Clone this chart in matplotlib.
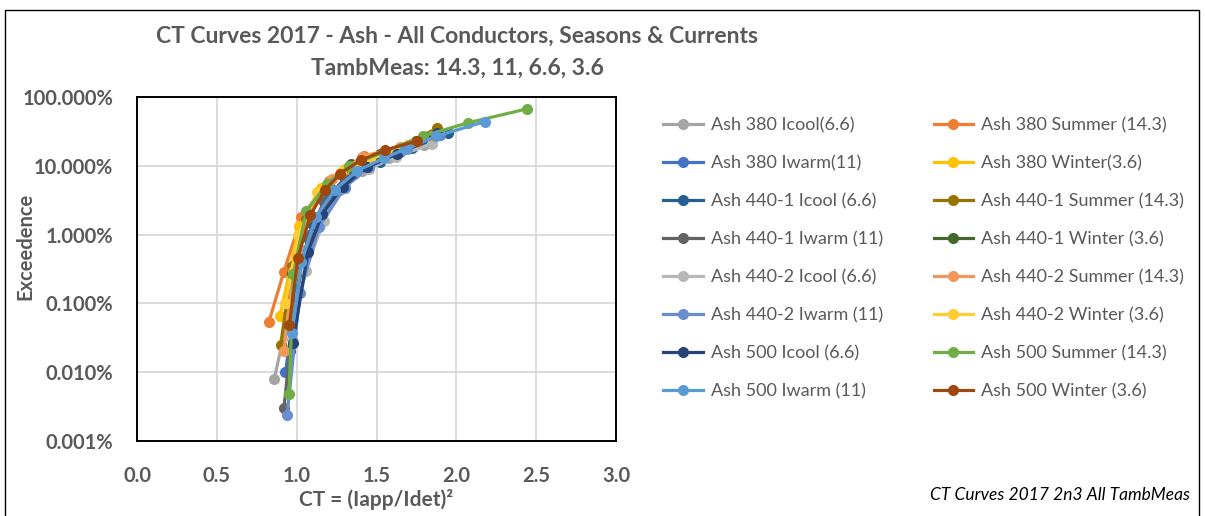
import matplotlib
matplotlib.use("Agg")
import matplotlib.pyplot as plt
from matplotlib.patches import Rectangle

plt.rcParams['font.family'] = ['Lato', 'DejaVu Sans']

# ---- data (CT value, exceedance in %) ----
names = ["Ash 380 Icool(6.6)", "Ash 380 Summer (14.3)", "Ash 380 Iwarm(11)", "Ash 380 Winter(3.6)",
         "Ash 440-1 Icool (6.6)", "Ash 440-1 Summer (14.3)", "Ash 440-1 Iwarm (11)", "Ash 440-1 Winter (3.6)",
         "Ash 440-2 Icool (6.6)", "Ash 440-2 Summer (14.3)", "Ash 440-2 Iwarm (11)", "Ash 440-2 Winter (3.6)",
         "Ash 500 Icool (6.6)", "Ash 500 Summer (14.3)", "Ash 500 Iwarm (11)", "Ash 500 Winter (3.6)"]
colors = ["#A5A5A5", "#ED7D31", "#4472C4", "#FFC000",
          "#255E91", "#997300", "#636363", "#43682B",
          "#B7B7B7", "#F1975A", "#698ED0", "#FFCD33",
          "#264478", "#70AD47", "#5B9BD5", "#9E480E"]

ash380_icool_x = [0.86, 0.97, 1.05, 1.15, 1.27, 1.41, 1.58, 1.80]
ash380_icool_y = [0.008, 0.12, 0.6, 1.7, 4.5, 8.5, 13, 20]
ash380_summer_x = [0.825, 0.92, 1.03, 1.20, 1.42, 1.61, 1.85]
ash380_summer_y = [0.053, 0.29, 1.8, 6.0, 14, 16, 26]
ash380_iwarm_x = [0.93, 1.00, 1.08, 1.18, 1.30, 1.45, 1.65, 1.90]
ash380_iwarm_y = [0.01, 0.15, 1.0, 3.2, 6.5, 10, 16, 28]
ash380_winter_x = [0.896, 1.015, 1.15, 1.30, 1.48, 1.70]
ash380_winter_y = [0.066, 1.32, 4.8, 9.0, 13.5, 20]
ash440_1_icool_x = [0.96, 1.02, 1.10, 1.22, 1.36, 1.52, 1.72, 1.95]
ash440_1_icool_y = [0.02, 0.3, 1.4, 4.0, 7.5, 11.5, 18, 30]
ash440_1_summer_x = [0.90, 0.97, 1.06, 1.19, 1.35, 1.55, 1.88]
ash440_1_summer_y = [0.025, 0.35, 1.7, 5.0, 9.5, 15, 35]
ash440_1_iwarm_x = [0.92, 0.99, 1.07, 1.17, 1.30, 1.46, 1.66, 1.90]
ash440_1_iwarm_y = [0.003, 0.1, 0.9, 3.0, 6.5, 10.5, 17, 29]
ash440_1_winter_x = [0.973, 1.07, 1.20, 1.34, 1.52, 1.75]
ash440_1_winter_y = [0.28, 1.9, 5.5, 10.7, 15, 23]
ash440_2_icool_x = [0.97, 1.056, 1.17, 1.30, 1.45, 1.62, 1.85]
ash440_2_icool_y = [0.03, 0.3, 1.6, 5.0, 9.0, 13.5, 21]
ash440_2_summer_x = [0.92, 0.98, 1.08, 1.22, 1.41, 1.65, 1.85]
ash440_2_summer_y = [0.02, 0.3, 2.2, 6.5, 13.5, 19, 27]
ash440_2_iwarm_x = [0.94, 1.02, 1.14, 1.30, 1.45, 1.69, 1.90]
ash440_2_iwarm_y = [0.0024, 0.14, 1.3, 4.8, 9.5, 17.5, 29]
ash440_2_winter_x = [0.93, 1.01, 1.13, 1.28, 1.46, 1.68]
ash440_2_winter_y = [0.1, 1.0, 4.2, 8.0, 12.5, 19]
ash500_icool_x = [0.977, 1.07, 1.16, 1.29, 1.44, 1.63, 1.88]
ash500_icool_y = [0.027, 0.55, 2.0, 5.0, 9.5, 15, 30]
ash500_summer_x = [0.952, 0.98, 1.06, 1.19, 1.33, 1.55, 1.79, 2.07, 2.44]
ash500_summer_y = [0.0048, 0.27, 2.2, 5.5, 10, 16, 27, 42, 67]
ash500_iwarm_x = [0.97, 1.03, 1.12, 1.24, 1.38, 1.55, 1.68, 1.875, 2.18]
ash500_iwarm_y = [0.037, 0.4, 1.8, 4.5, 8.5, 13, 17.5, 27, 44]
ash500_winter_x = [0.954, 1.008, 1.085, 1.175, 1.273, 1.40, 1.556, 1.754]
ash500_winter_y = [0.048, 0.46, 1.9, 4.4, 7.7, 12, 17, 23]

series_x = [ash380_icool_x, ash380_summer_x, ash380_iwarm_x, ash380_winter_x,
            ash440_1_icool_x, ash440_1_summer_x, ash440_1_iwarm_x, ash440_1_winter_x,
            ash440_2_icool_x, ash440_2_summer_x, ash440_2_iwarm_x, ash440_2_winter_x,
            ash500_icool_x, ash500_summer_x, ash500_iwarm_x, ash500_winter_x]
series_y = [ash380_icool_y, ash380_summer_y, ash380_iwarm_y, ash380_winter_y,
            ash440_1_icool_y, ash440_1_summer_y, ash440_1_iwarm_y, ash440_1_winter_y,
            ash440_2_icool_y, ash440_2_summer_y, ash440_2_iwarm_y, ash440_2_winter_y,
            ash500_icool_y, ash500_summer_y, ash500_iwarm_y, ash500_winter_y]

x_ticks = [0.0, 0.5, 1.0, 1.5, 2.0, 2.5, 3.0]
x_tick_labels = ["0.0", "0.5", "1.0", "1.5", "2.0", "2.5", "3.0"]
y_ticks = [0.001, 0.01, 0.1, 1, 10, 100]
y_tick_labels = ["0.001%", "0.010%", "0.100%", "1.000%", "10.000%", "100.000%"]

TXT = "#595959"

fig = plt.figure(figsize=(12.05, 5.16), dpi=100)
ax = fig.add_axes([137/1205, 1-441/516, (616-137)/1205, (441-97)/516])

handles = []
for xs, ys, c, n in zip(series_x, series_y, colors, names):
    h, = ax.plot(xs, ys, color=c, lw=2.3, marker='o', markersize=8,
                 markeredgewidth=0, label=n)
    handles.append(h)

ax.set_yscale('log')
ax.set_xlim(0, 3)
ax.set_ylim(0.001, 100)
ax.set_xticks(x_ticks)
ax.set_xticklabels(x_tick_labels)
ax.set_yticks(y_ticks)
ax.set_yticklabels(y_tick_labels)
ax.minorticks_off()
ax.grid(True, color="#D9D9D9", lw=1.3)
ax.set_axisbelow(True)
ax.tick_params(axis='y', length=0, labelsize=14.5, labelcolor=TXT, pad=17)
ax.tick_params(axis='x', length=0, labelsize=14.5, labelcolor=TXT, pad=18)
for lab in ax.get_xticklabels() + ax.get_yticklabels():
    lab.set_fontweight('bold')
for sp in ax.spines.values():
    sp.set_color('black')
    sp.set_linewidth(1.4)

fig.text(25/1205, 1-246/516, "Exceedence", rotation=90, ha='center', va='center',
         fontsize=14.5, fontweight='bold', color=TXT)
fig.text(376/1205, 1-500/516, "CT = (Iapp/Idet)²", ha='center', va='center',
         fontsize=15, fontweight='bold', color=TXT)

fig.text(457/1205, 1-36/516, "CT Curves 2017 - Ash - All Conductors, Seasons & Currents",
         ha='center', va='center', fontsize=16.5, fontweight='bold', color=TXT)
fig.text(457/1205, 1-68/516, "TambMeas: 14.3, 11, 6.6, 3.6",
         ha='center', va='center', fontsize=16.5, fontweight='bold', color=TXT)

fig.text(1190/1205, 1-495/516, "CT Curves 2017 2n3 All TambMeas", ha='right', va='center',
         fontsize=12.5, style='italic', color='black')

order = list(range(0, 16, 2)) + list(range(1, 16, 2))
leg = fig.legend([handles[i] for i in order], [names[i] for i in order],
                 loc='upper left', bbox_to_anchor=(647/1205, 1-101/516), ncol=2,
                 frameon=False, fontsize=13, handlelength=2.2, handletextpad=0.44,
                 labelspacing=1.21, columnspacing=2.8)
for t in leg.get_texts():
    t.set_color(TXT)

fig.patches.append(Rectangle((5/1205, -0.02), 1194/1205, 1.02-10/516, transform=fig.transFigure,
                             fill=False, edgecolor='black', lw=1.0))

fig.savefig("out.png", dpi=100)
